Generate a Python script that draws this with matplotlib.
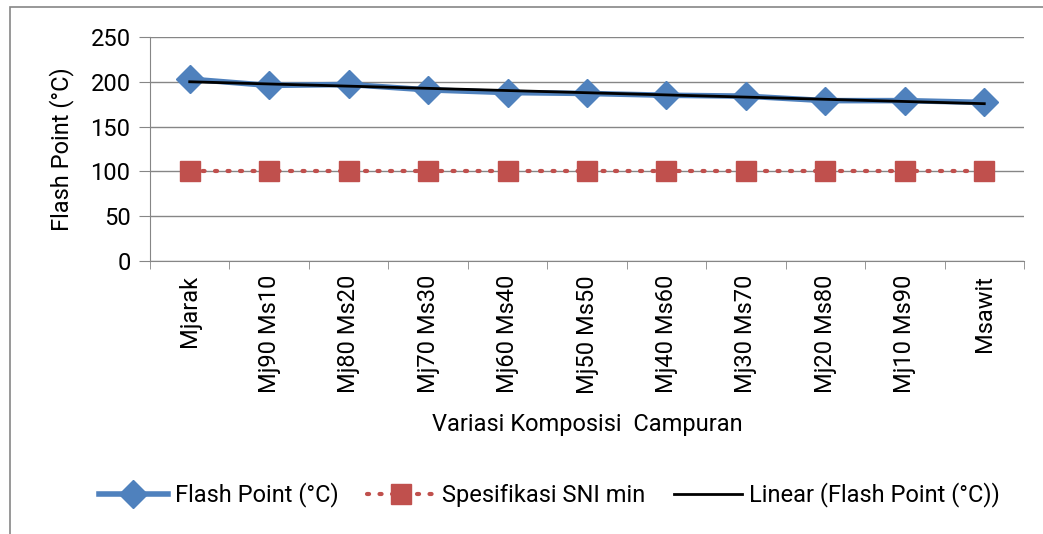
import matplotlib
matplotlib.use('Agg')
import matplotlib.pyplot as plt
import numpy as np
from matplotlib.patches import Rectangle

# data
kategori = ['Mjarak', 'Mj90 Ms10', 'Mj80 Ms20', 'Mj70 Ms30', 'Mj60 Ms40', 'Mj50 Ms50',
            'Mj40 Ms60', 'Mj30 Ms70', 'Mj20 Ms80', 'Mj10 Ms90', 'Msawit']
flash_point = [203, 196, 197, 191, 188, 187, 185, 184, 179, 179, 177]
sni_min = [100] * 11

plt.rcParams['font.family'] = ['Roboto', 'Liberation Sans', 'DejaVu Sans']
plt.rcParams['font.size'] = 17

fig = plt.figure(figsize=(10.43, 5.34), dpi=100)
ax = fig.add_axes([0.1438, 0.5112, 0.8380, 0.4195])

x = np.arange(len(kategori))
ax.plot(x, flash_point, color='#4F81BD', lw=4, marker='D', ms=14, label='Flash Point (°C)', zorder=3)
ax.plot(x, sni_min, color='#C0504D', lw=3, ls=(0, (0.5, 2.5)), dash_capstyle='round',
        marker='s', ms=15, label='Spesifikasi SNI min', zorder=3)
# garis tren linear
a, b = np.polyfit(x, flash_point, 1)
ax.plot(x, a * x + b, color='black', lw=2, label='Linear (Flash Point (°C))', zorder=4)

ax.set_xlim(-0.5, len(kategori) - 0.5)
ax.set_ylim(0, 250)
ax.set_yticks(range(0, 251, 50))
ax.set_xticks(x)
ax.set_xticklabels(kategori, rotation=90)
ax.set_xticks(np.arange(-0.5, len(kategori), 1), minor=True)
ax.tick_params(axis='x', which='major', length=0, pad=10)
ax.tick_params(axis='x', which='minor', length=6, color='#868686', direction='out')
ax.tick_params(axis='y', length=8, color='#868686', pad=6)
ax.yaxis.grid(True, color='#868686', lw=1)
ax.set_axisbelow(True)
for s in ['top', 'right']:
    ax.spines[s].set_visible(False)
ax.spines['left'].set_color('#868686')
ax.spines['bottom'].set_color('#868686')

ax.set_ylabel('Flash Point (°C)', labelpad=12)
ax.set_xlabel('Variasi Komposisi  Campuran', labelpad=14)

fig.legend(loc='center', bbox_to_anchor=(0.527, 0.073), ncol=3, frameon=False,
           handlelength=2.9, columnspacing=1.2, handletextpad=0.3)

fig.patches.append(Rectangle((0.0096, -0.01), 1.0, 0.997, transform=fig.transFigure,
                             fill=False, edgecolor='#868686', lw=1.2))

plt.savefig('out.png', dpi=100)
